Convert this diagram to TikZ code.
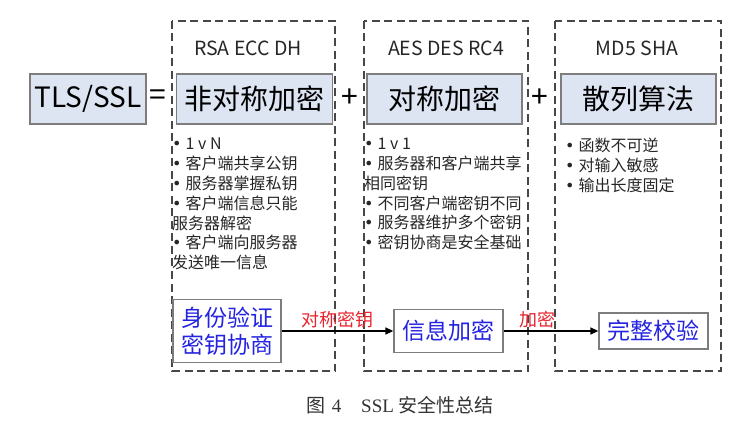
\documentclass[tikz,border=0pt]{standalone}
\usepackage{fontspec}
\setmainfont{Noto Sans CJK SC}
\newfontfamily\capfont{Liberation Serif}
\newfontfamily\dotfont{DejaVu Sans}
\newcommand\itemdot{{\dotfont •}\hspace{4pt}}
\usetikzlibrary{arrows.meta}
\definecolor{boxfill}{RGB}{221,228,242}
\definecolor{boxline}{RGB}{125,125,125}
\definecolor{stepblue}{RGB}{35,35,225}
\definecolor{keyred}{RGB}{232,35,45}
\tikzset{
  group/.style={black!72,line width=1.7pt,dash pattern=on 8pt off 4.5pt},
  algbox/.style={draw=boxline,fill=boxfill,line width=1.3pt,inner sep=0pt,
    minimum height=50pt,font=\fontsize{28}{30}\selectfont},
  stepbox/.style={draw=boxline,fill=white,line width=1.3pt,inner sep=0pt,
    text=stepblue,align=center,font=\fontsize{23}{27}\selectfont},
  algname/.style={font=\fontsize{19.5}{22}\selectfont,text=black!85},
  points/.style={anchor=north west,inner sep=0pt,align=left,
    font=\fontsize{16}{19.8}\selectfont,text=black!85},
  sign/.style={font=\fontsize{30}{30}\selectfont,inner sep=0pt},
  flow/.style={black,line width=1.3pt,-{Triangle[length=8pt,width=7pt]}},
  keylabel/.style={above=1pt,inner sep=1pt,text=keyred,font=\fontsize{18}{20}\selectfont}
}

\begin{document}
\begin{tikzpicture}[x=1pt,y=-1pt]
\useasboundingbox (0,0) rectangle (751,427);
% dashed groups
\draw[group] (172,21) rectangle (335,371);
\draw[group] (364,21) rectangle (528,371);
\draw[group] (555,21) rectangle (721,371);
% top row
\node[algbox,minimum width=116pt] (tls) at (88,99) {TLS/SSL};
\node[sign] (eq) at (158,98) {=};
\node[algbox,minimum width=156pt] (asym) at (254.5,99) {非对称加密};
\node[sign] (plus1) at (350,98) {+};
\node[algbox,minimum width=155pt] (sym) at (444.5,99) {对称加密};
\node[sign] (plus2) at (540,98) {+};
\node[algbox,minimum width=155pt] (hash) at (638.5,99) {散列算法};
\node[algname] (asymalg) at (248,48) {RSA ECC DH};
\node[algname] (symalg) at (446,48) {AES DES RC4};
\node[algname] (hashalg) at (637,48) {MD5 SHA};
% bullet lists
\node[points] (asympts) at (172,138) {\itemdot 1 v N\\\itemdot 客户端共享公钥\\\itemdot 服务器掌握私钥\\\itemdot 客户端信息只能\\服务器解密\\\itemdot 客户端向服务器\\发送唯一信息};
\node[points] (sympts) at (364,138) {\itemdot 1 v 1\\\itemdot 服务器和客户端共享\\相同密钥\\\itemdot 不同客户端密钥不同\\\itemdot 服务器维护多个密钥\\\itemdot 密钥协商是安全基础};
\node[points] (hashpts) at (565,138) {\itemdot 函数不可逆\\\itemdot 对输入敏感\\\itemdot 输出长度固定};
% bottom flow
\node[stepbox,minimum width=108pt,minimum height=63pt] (auth) at (227,331) {身份验证\\密钥协商};
\node[stepbox,minimum width=109pt,minimum height=43pt] (enc) at (448.5,331) {信息加密};
\node[stepbox,minimum width=109pt,minimum height=36pt] (check) at (653.5,331) {完整校验};
\draw[flow] (auth.east) -- node[keylabel] (symkey) {对称密钥} (enc.west);
\draw[flow] (enc.east) -- node[keylabel,pos=0.36] (encl) {加密} (check.west);
% caption
\node[font=\fontsize{19}{22}\selectfont,text=black!80] (cap) at (400,405)
  {图\hspace{6pt}{\capfont 4}\hspace{20pt}{\capfont SSL} 安全性总结};
\end{tikzpicture}
\end{document}
